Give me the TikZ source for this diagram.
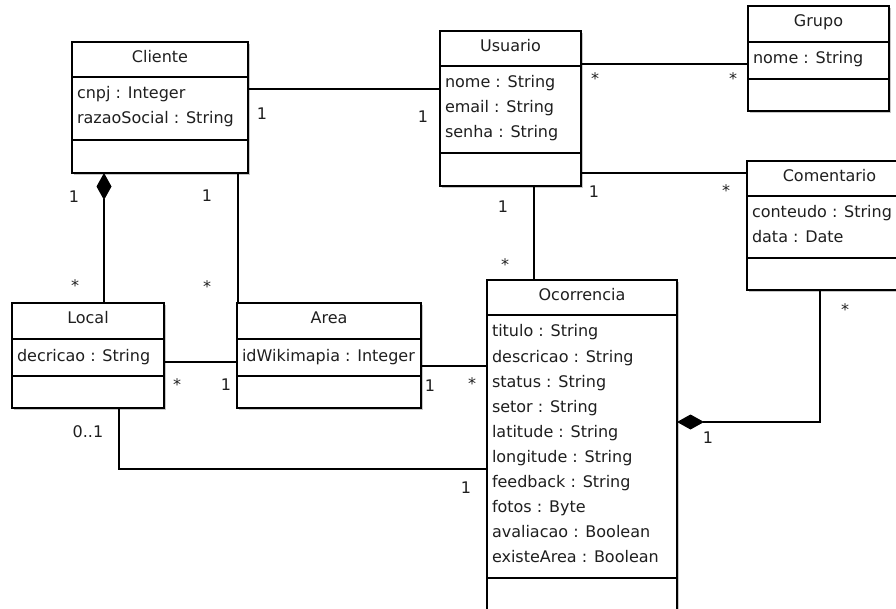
\documentclass[tikz,border=0pt]{standalone}
\usepackage{fontspec}
\setmainfont{DejaVu Sans}
\usetikzlibrary{calc,arrows.meta,shadows}

% one UML class: name, x, y, width, height, header height, attribute height, title
\newcommand\umlclass[8]{%
  \node[classbox, minimum width=#4pt, minimum height=#5pt] (#1) at (#2,#3) {};
  \draw ($(#1.north west)+(0,#6)$) -- ($(#1.north east)+(0,#6)$);
  \draw ($(#1.north west)+(0,#6+#7)$) -- ($(#1.north east)+(0,#6+#7)$);
  \node[anchor=base] (#1-title) at ($(#1.north)+(0,20.5)$) {#8};
}
% attribute lines of a class: name, header height, list
\newcommand\umlattrs[3]{%
  \foreach \t [count=\i] in {#3}
    \node[anchor=base west] (#1-a\i) at ($(#1.north west)+(5,#2+22+25*\i-25)$) {\t};
}

\begin{document}
\begin{tikzpicture}[x=1pt,y=-1pt,
  line width=1.1pt,
  every node/.style={font=\fontsize{16}{19}\selectfont, text=black!88, inner sep=0pt, outer sep=0pt},
  classbox/.style={draw, fill=white, anchor=north west,
    general shadow={fill=black!22, shadow xshift=1.6pt, shadow yshift=-1.6pt}},
  mult/.style={anchor=base},
  comp/.style={{Diamond[length=27pt,width=15pt]}-}]

\useasboundingbox (0,0) rectangle (896,609);

% classes
\umlclass{cliente}{72}{42}{176}{131}{35}{63}{Cliente}
\umlattrs{cliente}{35}{cnpj : Integer, razaoSocial : String}

\umlclass{usuario}{440}{31}{141}{155}{35}{87}{Usuario}
\umlattrs{usuario}{35}{nome : String, email : String, senha : String}

\umlclass{grupo}{748}{6}{141}{105}{36}{37}{Grupo}
\umlattrs{grupo}{36}{nome : String}

\umlclass{comentario}{747}{161}{165}{129}{35}{62}{Comentario}
\umlattrs{comentario}{35}{conteudo : String, data : Date}

\umlclass{local}{12}{303}{152}{105}{36}{37}{Local}
\umlattrs{local}{36}{decricao : String}

\umlclass{area}{237}{303}{184}{105}{36}{37}{Area}
\umlattrs{area}{36}{idWikimapia : Integer}

\umlclass{ocorrencia}{487}{280}{190}{400}{35}{263}{Ocorrencia}
\umlattrs{ocorrencia}{35}{titulo : String, descricao : String, status : String,
  setor : String, latitude : String, longitude : String, feedback : String,
  fotos : Byte, avaliacao : Boolean, existeArea : Boolean}

% associations
\draw ($(cliente.north east)+(0,47)$) -- ($(usuario.north west)+(0,58)$);
\node[mult] (m1a) at (262,120) {1};
\node[mult] (m1b) at (423,123) {1};

\draw ($(usuario.north east)+(0,33)$) -- ($(grupo.north west)+(0,58)$);
\node[mult] (m2a) at (595,85) {*};
\node[mult] (m2b) at (733,85) {*};

\draw ($(usuario.north east)+(0,142)$) -- ($(comentario.north west)+(0,12)$);
\node[mult] (m3a) at (594,198) {1};
\node[mult] (m3b) at (726,197) {*};

\draw ($(usuario.south west)+(94,0)$) -- ($(ocorrencia.north west)+(47,0)$);
\node[mult] (m4a) at (503,213) {1};
\node[mult] (m4b) at (505,271) {*};

\draw[comp] ($(cliente.south west)+(32,0)$) -- ($(local.north west)+(92,0)$);
\node[mult] (m5a) at (74,203) {1};
\node[mult] (m5b) at (75,291) {*};

\draw ($(cliente.south west)+(166,0)$) -- ($(area.north west)+(1,0)$);
\node[mult] (m6a) at (207,202) {1};
\node[mult] (m6b) at (207,293) {*};

\draw ($(local.north east)+(0,59)$) -- ($(area.north west)+(0,59)$);
\node[mult] (m7a) at (177,390) {*};
\node[mult] (m7b) at (226,390) {1};

\draw ($(area.north east)+(0,63)$) -- ($(ocorrencia.north west)+(0,86)$);
\node[mult] (m8a) at (430,391) {1};
\node[mult] (m8b) at (472,389) {*};

\draw ($(local.south west)+(107,0)$) |- ($(ocorrencia.north west)+(0,189)$);
\node[mult] (m9a) at (88,437) {0..1};
\node[mult] (m9b) at (466,493) {1};

\draw[comp] ($(ocorrencia.north east)+(0,142)$) -| ($(comentario.south west)+(73,0)$);
\node[mult] (m10a) at (845,316) {*};
\node[mult] (m10b) at (708,443) {1};

\end{tikzpicture}
\end{document}
